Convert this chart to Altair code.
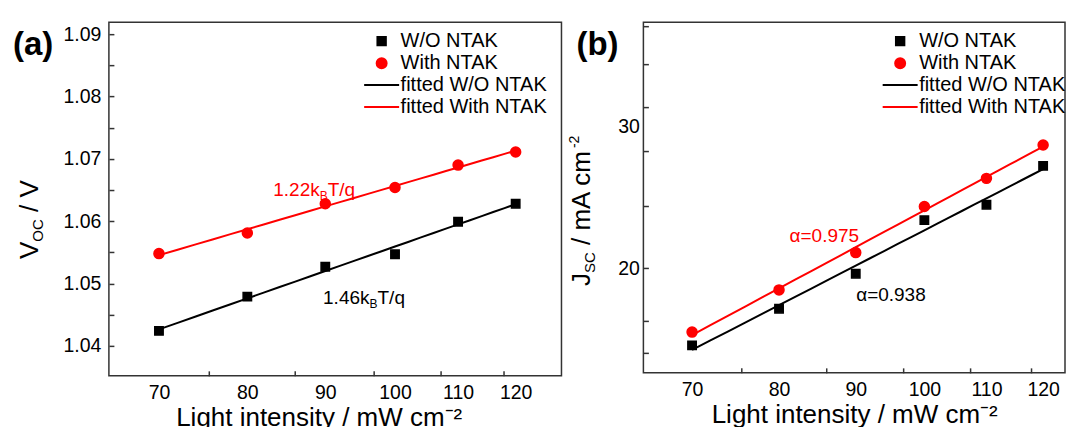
import altair as alt
import pandas as pd

# ---------------- data ----------------
intensity = [70, 80, 90, 100, 110, 120]
voc_wo = [1.0424, 1.0479, 1.0527, 1.0547, 1.0599, 1.0628]
voc_with = [1.0548, 1.0581, 1.0628, 1.0654, 1.0690, 1.0711]
jsc_wo = [16.05, 17.82, 19.69, 22.94, 23.97, 26.78]
jsc_with = [16.67, 18.80, 20.91, 23.85, 25.84, 28.42]

series_names = ["W/O NTAK", "With NTAK"]
legend_names = ["W/O NTAK", "With NTAK", "fitted W/O NTAK", "fitted With NTAK"]
legend_colors = ["#000000", "#ff0000", "#000000", "#ff0000"]
legend_shapes = [
    "M-0.42,-0.42H0.42V0.42H-0.42Z",
    "M0.5,0A0.5,0.5,0,1,1,-0.5,0A0.5,0.5,0,1,1,0.5,0Z",
    "M-1.75,0H1.75",
    "M-1.75,0H1.75",
]

x_label_values = [70, 80, 90, 100, 110, 120]
x_tick_values = [75.5, 86, 96.8, 107.2, 117.8]
voc_label_values = [1.04, 1.05, 1.06, 1.07, 1.08, 1.09]
voc_tick_values = [1.04, 1.045, 1.05, 1.055, 1.06, 1.065, 1.07, 1.075, 1.08, 1.085, 1.09]
jsc_label_values = [20, 30]
jsc_tick_values = [15.7, 17.2, 20, 23.9, 27.9, 31.7, 35.8, 39.9]

xa_domain = [64.9, 128.6]
xb_domain = [64.96, 124.1]
voc_domain = [1.03519, 1.09192]
jsc_domain = [14.84, 40.34]

# annotations: (main text, subscript, tail, x, y, color)
ann_a = [("1.22k", "B", "T/q", 83.2, 1.06404, "#ff0000"),
         ("1.46k", "B", "T/q", 89.7, 1.04673, "#000000")]
ann_b = [("α=0.975", 81.3, 21.56, "#ff0000"),
         ("α=0.938", 90.06, 18.22, "#000000")]

FONT = "Liberation Sans"
TICK_FS = 19.5
LEG_FS = 20


def arr(v):
    return "[" + ",".join(repr(x) for x in v) + "]"


def make_axis(values, labels, ticks, fmt, title=None, label_padding=13, **kw):
    vals = sorted(set(values))
    return alt.Axis(
        values=vals,
        title=title,
        labelExpr=f"indexof({arr(labels)}, datum.value) >= 0 ? format(datum.value, '{fmt}') : ''",
        tickOpacity={"condition": {"test": f"indexof({arr(ticks)}, datum.value) >= 0", "value": 1}, "value": 0},
        tickSize={"expr": "-5"},
        tickColor="#333333",
        tickWidth=1.5,
        labelPadding=label_padding,
        labelOverlap=False,
        labelFlush=False,
        labelFont=FONT,
        labelFontSize=TICK_FS,
        labelColor="#000000",
        titleFont=FONT,
        titleFontSize=26,
        titleFontWeight="normal",
        titleColor="#000000",
        domain=False,
        grid=False,
        **kw,
    )


def text_layer(txt, x, y, size, angle=0, bold=False, color="#000000"):
    d = pd.DataFrame({"k": [0]})
    props = dict(text=txt, align="left", baseline="alphabetic", fontSize=size,
                 color=color, font=FONT)
    if angle:
        props["angle"] = angle
    if bold:
        props["fontWeight"] = "bold"
    return alt.Chart(d).mark_text(**props).encode(x=alt.value(x), y=alt.value(y))


def panel(y_wo, y_with, x_domain, y_domain, y_type, method, x_axis, y_axis,
          leg_x, leg_y, width, height, extra):
    df = pd.DataFrame({
        "I": intensity + intensity,
        "val": y_wo + y_with,
        "series": [series_names[0]] * len(intensity) + [series_names[1]] * len(intensity),
    })
    xs = alt.Scale(type="log", domain=x_domain, nice=False)
    ys = alt.Scale(type=y_type, domain=y_domain, nice=False, zero=False)
    leg = alt.Legend(orient="none", legendX=leg_x, legendY=leg_y, title=None,
                     labelFont=FONT, labelFontSize=LEG_FS, labelColor="#000000",
                     symbolSize=400, symbolStrokeWidth=2, rowPadding=1, labelOffset=8,
                     padding=0, symbolOpacity=1)
    fill_s = alt.Scale(domain=legend_names, range=legend_colors)
    stroke_s = alt.Scale(domain=legend_names, range=legend_colors)
    shape_s = alt.Scale(domain=legend_names, range=legend_shapes)

    X = alt.X("I:Q", scale=xs, axis=x_axis)
    Y = alt.Y("val:Q", scale=ys, axis=y_axis)

    base = alt.Chart(df)
    fit = base.transform_regression(
        "I", "val", groupby=["series"], method=method
    ).transform_calculate(
        fit='"fitted " + datum.series'
    ).mark_line(strokeWidth=2).encode(
        x=X, y=Y, stroke=alt.Stroke("fit:N", scale=stroke_s, legend=leg)
    )
    pts = base.mark_point(filled=True, size=400, opacity=1, strokeWidth=1.5).encode(
        x=X, y=Y,
        fill=alt.Fill("series:N", scale=fill_s, legend=leg),
        stroke=alt.Stroke("series:N", scale=stroke_s, legend=leg),
        shape=alt.Shape("series:N", scale=shape_s, legend=leg),
    )
    layers = [fit, pts]
    for spec in extra["ann"]:
        if len(spec) == 6:
            main, sub, tail, ax, ay, col = spec
            d = pd.DataFrame({"I": [ax], "val": [ay]})
            layers.append(alt.Chart(d).mark_text(text=main, align="left", baseline="alphabetic",
                                                 fontSize=19, color=col, font=FONT).encode(x=X, y=Y))
            layers.append(alt.Chart(d).mark_text(text=sub, align="left", baseline="alphabetic",
                                                 fontSize=12, color=col, font=FONT, dx=46.5, dy=4).encode(x=X, y=Y))
            layers.append(alt.Chart(d).mark_text(text=tail, align="left", baseline="alphabetic",
                                                 fontSize=19, color=col, font=FONT, dx=54.5).encode(x=X, y=Y))
        else:
            txt, ax, ay, col = spec
            d = pd.DataFrame({"I": [ax], "val": [ay]})
            layers.append(alt.Chart(d).mark_text(text=txt, align="left", baseline="alphabetic",
                                                 fontSize=19, color=col, font=FONT).encode(x=X, y=Y))
    for t in extra["texts"]:
        layers.append(text_layer(*t))
    return alt.layer(*layers).properties(width=width, height=height)


xa_axis = make_axis(x_label_values + x_tick_values, x_label_values, x_tick_values, "d",
                    title="Light intensity / mW cm⁻²", titleX=210, titlePadding=2)
ya_axis = make_axis(voc_tick_values, voc_label_values, voc_tick_values, ".2f")
xb_axis = make_axis(x_label_values + x_tick_values, x_label_values, x_tick_values, "d",
                    title="Light  intensity / mW cm⁻²", titlePadding=2)
yb_axis = make_axis(jsc_tick_values + jsc_label_values, jsc_label_values, jsc_tick_values, "d",
                    label_padding=9)

pa = panel(voc_wo, voc_with, xa_domain, voc_domain, "linear", "log", xa_axis, ya_axis,
           262, 8, 453, 354,
           {"ann": ann_a,
            "texts": [("(a)", -96, 33, 33, 0, True),
                      ("V", -70.7, 237, 26, 270),
                      ("OC", -65.7, 219.7, 15, 270),
                      ("/ V", -70.7, 190, 26, 270)]})

pb = panel(jsc_wo, jsc_with, xb_domain, jsc_domain, "log", "pow", xb_axis, yb_axis,
           246, 8, 422, 351,
           {"ann": ann_b,
            "texts": [("(b)", -67, 33, 33, 0, True),
                      ("J", -53, 264, 26, 270),
                      ("SC", -48, 251, 15, 270),
                      ("/ mA cm", -53, 223, 26, 270),
                      ("-2", -64, 126, 14, 270)]})

chart = alt.hconcat(pa, pb, spacing=5).resolve_scale(
    fill="independent", stroke="independent", shape="independent"
).resolve_legend(
    fill="independent", stroke="independent", shape="independent"
).properties(
    padding={"left": 12, "top": 15, "right": 0, "bottom": 0}
).configure(
    font=FONT
).configure_view(
    stroke="#333333", strokeWidth=1.5
).configure_axis(
    labelFont=FONT, labelFontSize=TICK_FS, labelColor="#000000",
    tickColor="#333333", tickWidth=1.5,
    titleFont=FONT, titleFontSize=26, titleFontWeight="normal", titleColor="#000000",
).configure_legend(
    labelFont=FONT, labelFontSize=LEG_FS, labelColor="#000000",
    symbolSize=400, symbolStrokeWidth=2, rowPadding=1, labelOffset=8, padding=0,
    symbolOpacity=1,
)

chart.save("out.html", embed_options={"renderer": "svg", "actions": False})
